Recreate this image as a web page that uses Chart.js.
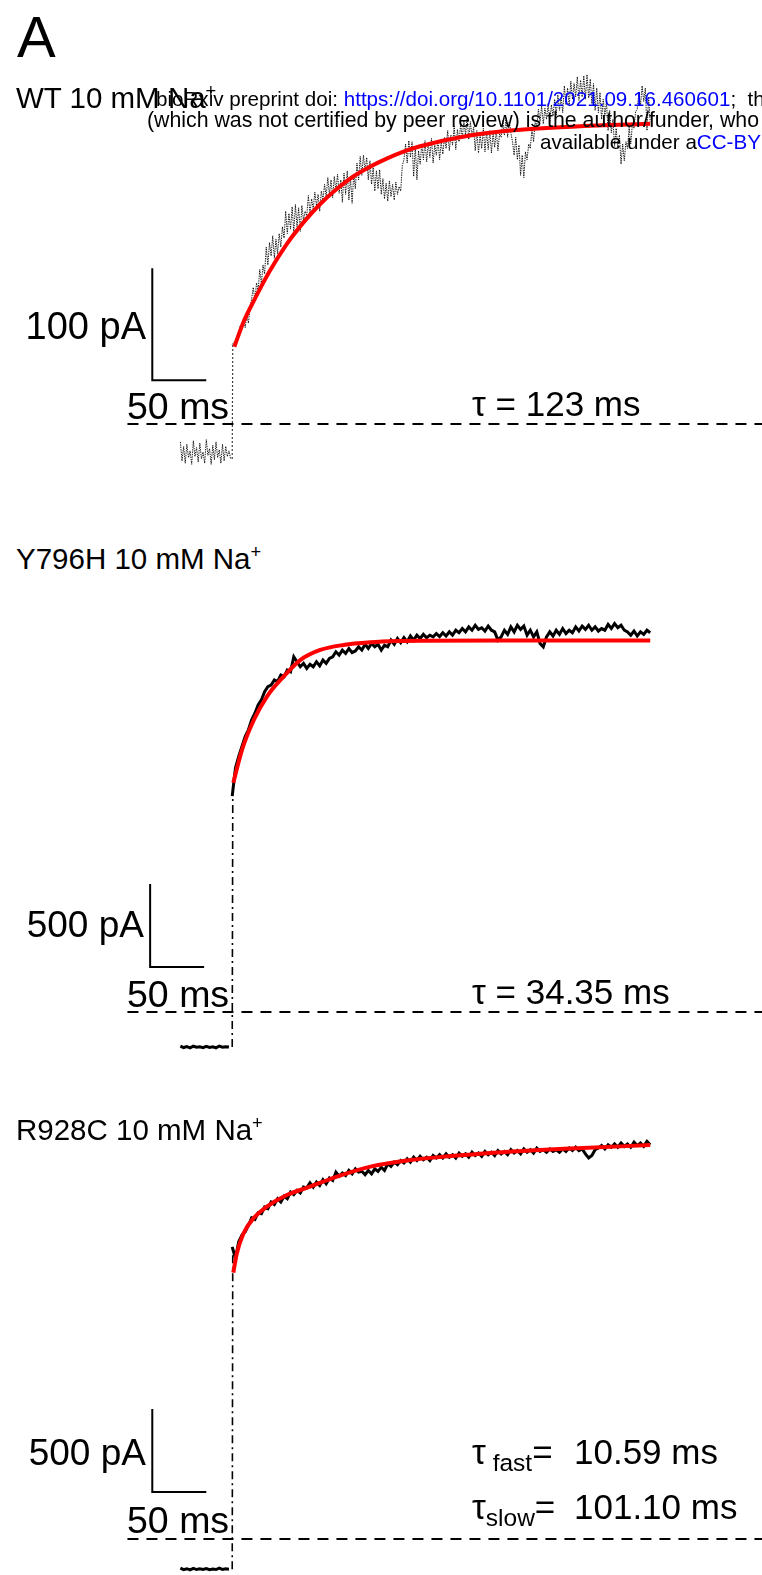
<!DOCTYPE html>
<html>
<head>
<meta charset="utf-8">
<script src="https://cdn.jsdelivr.net/npm/chart.js@4.4.0/dist/chart.umd.min.js"></script>
<style>
body { margin:0; width:762px; height:1575px; overflow:hidden; background:#fff; position:relative;
       font-family:"Liberation Sans", Arial, sans-serif; }
canvas { position:absolute; left:0; }
.t { position:absolute; white-space:nowrap; line-height:1; color:#000; }
.t sup { font-size:62%; vertical-align:0.62em; line-height:0; }
.t sub { font-size:70%; vertical-align:-0.3em; line-height:0; }
.wm { position:absolute; white-space:nowrap; line-height:1; color:#000; }
.wm a { color:#0000ff; text-decoration:none; }
</style>
</head>
<body>

<canvas id="wt" width="762" height="420" style="top:60px"></canvas>
<canvas id="y796h" width="762" height="480" style="top:590px"></canvas>
<canvas id="r928c" width="762" height="465" style="top:1110px"></canvas>

<!-- labels -->
<div class="t" style="left:17px;top:8px;font-size:58px">A</div>
<div class="t" style="left:16px;top:83px;font-size:29.5px">WT 10 mM Na<sup>+</sup></div>
<div class="wm" style="left:156px;top:89px;font-size:20.6px">bioRxiv preprint doi: <a>https://doi.org/10.1101/2021.09.16.460601</a>;&nbsp;&nbsp;this version posted</div>
<div class="wm" style="left:147px;top:110px;font-size:21.3px">(which was not certified by peer review) is the author/funder, who has granted</div>
<div class="wm" style="left:540px;top:132px;font-size:20.6px">available under a<a>CC-BY 4.0 International license</a></div>
<div class="t" style="right:616px;top:307px;font-size:38px">100 pA</div>
<div class="t" style="left:127px;top:388px;font-size:37.5px">50 ms</div>
<div class="t" style="left:472px;top:386px;font-size:35px">τ = 123 ms</div>

<div class="t" style="left:16px;top:544px;font-size:29.5px">Y796H 10 mM Na<sup>+</sup></div>
<div class="t" style="right:618px;top:906px;font-size:37px">500 pA</div>
<div class="t" style="left:127px;top:976px;font-size:37.5px">50 ms</div>
<div class="t" style="left:472px;top:974px;font-size:35px">τ = 34.35 ms</div>

<div class="t" style="left:16px;top:1115px;font-size:29.5px">R928C 10 mM Na<sup>+</sup></div>
<div class="t" style="right:616px;top:1434px;font-size:37px">500 pA</div>
<div class="t" style="left:127px;top:1502px;font-size:37.5px">50 ms</div>
<div class="t" style="left:472px;top:1434px;font-size:35px">τ<sub> fast</sub>=</div>
<div class="t" style="left:574px;top:1434px;font-size:35px">10.59 ms</div>
<div class="t" style="left:472px;top:1489px;font-size:35px">τ<sub>slow</sub>=</div>
<div class="t" style="left:574px;top:1489px;font-size:35px">101.10 ms</div>

<script>
// traces start 48 ms before the jump, time in ms, current in pA
const baselineStart = -48;

// WT 10 mM Na+, sampled every 1.5 ms
const wtStep = 1.5;
const wtBaseline = [-16, -33, -20, -35, -18, -30, -24, -36, -15, -29, -21, -34, -17, -31, -25, -35,
                    -14, -28, -22, -36, -19, -32, -16, -30, -23, -35, -18, -33, -20, -29, -24, -31];
const wtTrace = [
  71, 73, 72, 76, 82, 88, 84, 95, 86, 97,
  90, 104, 112, 122, 110, 126, 119, 138, 125, 142,
  134, 158, 142, 162, 150, 168, 148, 165, 152, 170,
  158, 176, 166, 190, 170, 188, 174, 194, 171, 196,
  176, 193, 172, 195, 182, 190, 186, 204, 188, 201,
  192, 207, 195, 205, 190, 208, 200, 214, 203, 220,
  205, 218, 202, 221, 208, 223, 206, 218, 198, 224,
  205, 226, 200, 220, 197, 223, 210, 233, 218, 239,
  222, 240, 226, 238, 218, 235, 214, 229, 208, 226,
  210, 227, 205, 219, 201, 215, 199, 217, 203, 214,
  200, 216, 205, 212, 208, 231, 236, 250, 233, 253,
  238, 252, 221, 248, 218, 244, 232, 250, 236, 253,
  234, 251, 238, 255, 233, 249, 240, 254, 236, 252,
  241, 256, 246, 262, 244, 258, 249, 266, 245, 263,
  252, 268, 255, 271, 258, 273, 254, 270, 256, 265,
  244, 262, 242, 258, 246, 264, 243, 261, 245, 262,
  242, 260, 247, 262, 244, 259, 256, 271, 258, 273,
  256, 270, 260, 252, 240, 256, 236, 249, 222, 240,
  220, 243, 236, 250, 246, 264, 252, 270, 266, 281,
  270, 284, 268, 282, 272, 286, 269, 285, 275, 290,
  276, 294, 280, 292, 278, 302, 285, 300, 284, 306,
  290, 304, 292, 310, 289, 307, 292, 311, 290, 312,
  291, 308, 286, 304, 280, 300, 278, 296, 272, 290,
  275, 288, 262, 280, 260, 272, 248, 264, 246, 258,
  232, 250, 235, 252, 246, 265, 250, 268, 264, 279,
  281, 296, 284, 302, 288, 300, 262, 292, 270
];
const wtFitTime = [2, 10, 20, 35, 50, 66, 81, 97, 112, 128, 143, 158, 174, 211, 257, 304, 350, 387];
const wtFit = [69, 90, 110, 137, 160, 180, 196, 210, 221, 230, 237, 243, 248, 256, 262, 265, 267, 268];

// Y796H 10 mM Na+, sampled every 3 ms
const y796hStep = 3;
const y796hBaseline = [-205, -214, -208, -216, -206, -212, -209, -215, -207, -213, -210, -216, -205, -212, -209, -211];
const y796hTrace = [
  1300, 1470, 1540, 1600, 1660, 1700, 1760, 1800, 1850, 1880,
  1930, 1960, 1970, 2000, 1990, 2030, 2020, 2060, 2050, 2140,
  2110, 2080, 2100, 2070, 2095, 2080, 2110, 2085, 2120, 2100,
  2130, 2140, 2170, 2150, 2180, 2160, 2190, 2165, 2175, 2200,
  2180, 2215, 2190, 2220, 2200, 2215, 2180, 2210, 2200, 2240,
  2215, 2250, 2225, 2255, 2230, 2265, 2240, 2270, 2250, 2275,
  2255, 2270, 2260, 2280, 2262, 2285, 2265, 2290, 2270, 2300,
  2285, 2310, 2290, 2320, 2300, 2330, 2305, 2315, 2295, 2325,
  2300, 2290, 2240, 2260, 2300, 2275, 2320, 2290, 2330, 2305,
  2325, 2270, 2300, 2260, 2290, 2220, 2200, 2260, 2290, 2265,
  2300, 2275, 2310, 2280, 2300, 2285, 2320, 2295, 2325, 2305,
  2330, 2300, 2320, 2295, 2310, 2300, 2335, 2310, 2340, 2315,
  2330, 2300, 2290, 2270, 2295, 2265, 2290, 2275, 2300, 2285
];
const y796hFitTime = [1, 9, 20, 32, 47.5, 63, 81.5, 103, 128, 158, 174, 250, 387];
const y796hFit = [1381, 1578, 1759, 1899, 2020, 2120, 2181, 2211, 2227, 2235, 2237, 2238, 2238];

// R928C 10 mM Na+, sampled every 3 ms
const r928cStep = 3;
const r928cBaseline = [-176, -185, -179, -186, -177, -184, -180, -183, -178, -185, -181, -184, -176, -183, -180, -182];
const r928cTrace = [
  1760, 1690, 1790, 1830, 1850, 1890, 1935, 1925, 1965, 1960,
  2000, 1990, 2030, 2015, 2050, 2030, 2065, 2050, 2090, 2075,
  2100, 2085, 2120, 2115, 2145, 2120, 2150, 2130, 2165, 2140,
  2175, 2160, 2210, 2185, 2205, 2190, 2220, 2200, 2230, 2210,
  2215, 2195, 2220, 2200, 2230, 2215, 2240, 2220, 2260, 2245,
  2270, 2255, 2280, 2265, 2290, 2270, 2300, 2280, 2305, 2285,
  2300, 2280, 2310, 2295, 2315, 2295, 2320, 2300, 2315, 2295,
  2325, 2305, 2320, 2300, 2330, 2310, 2325, 2305, 2335, 2315,
  2330, 2310, 2340, 2320, 2335, 2315, 2345, 2325, 2340, 2320,
  2350, 2330, 2345, 2325, 2355, 2335, 2345, 2330, 2350, 2335,
  2345, 2330, 2350, 2335, 2355, 2340, 2360, 2340, 2350, 2320,
  2295, 2310, 2345, 2355, 2370, 2350, 2375, 2360, 2380, 2360,
  2385, 2365, 2380, 2360, 2390, 2370, 2385, 2365, 2395, 2375
];
const r928cFitTime = [1, 4.3, 10.5, 19.7, 32, 50.6, 72, 97, 128, 165, 200, 242, 280, 319, 387];
const r928cFit = [1604, 1721, 1842, 1932, 2002, 2072, 2122, 2183, 2243, 2283, 2305, 2327, 2342, 2354, 2373];

// zero current reference line (ms)
const zeroLineTime = [-97, 491];

function sampled(values, start, step) {
  return values.map((v, i) => ({ x: start + i * step, y: v }));
}
function paired(xs, ys) {
  return xs.map((x, i) => ({ x: x, y: ys[i] }));
}

const panels = [
  { id: 'wt', yMin: -50, yMax: 325, step: wtStep, baseline: wtBaseline, trace: wtTrace, fitT: wtFitTime, fit: wtFit,
    traceWidth: 0.9, traceDash: [1.4, 1], jumpWidth: 1.2, jumpDash: [1.5, 2.5], barT: -74, barI: 39, barPA: 100 },
  { id: 'y796h', yMin: -349.4, yMax: 2542.2, step: y796hStep, baseline: y796hBaseline, trace: y796hTrace, fitT: y796hFitTime, fit: y796hFit,
    traceWidth: 3, traceDash: [], jumpWidth: 1.6, jumpDash: [8, 4, 2, 4], barT: -76, barI: 271, barPA: 500 },
  { id: 'r928c', yMin: -216.9, yMax: 2584.3, step: r928cStep, baseline: r928cBaseline, trace: r928cTrace, fitT: r928cFitTime, fit: r928cFit,
    traceWidth: 3, traceDash: [], jumpWidth: 1.6, jumpDash: [8, 4, 2, 4], barT: -74, barI: 283, barPA: 500 }
];

panels.forEach(p => {
  const base = sampled(p.baseline, baselineStart, p.step);
  const tr = sampled(p.trace, 0, p.step);
  const jump = [{ x: 0, y: p.baseline[p.baseline.length - 1] }, { x: 0.5, y: p.trace[0] }];
  const bar = [{ x: p.barT, y: p.barI + p.barPA }, { x: p.barT, y: p.barI }, { x: p.barT + 50, y: p.barI }];
  const zero = zeroLineTime.map(t => ({ x: t, y: 0 }));

  new Chart(document.getElementById(p.id), {
    type: 'scatter',
    data: {
      datasets: [
        { data: paired(p.fitT, p.fit), borderColor: '#ff0000', borderWidth: 4, cubicInterpolationMode: 'monotone', order: 0 },
        { data: tr, borderColor: '#000', borderWidth: p.traceWidth, borderDash: p.traceDash, order: 2 },
        { data: base, borderColor: '#000', borderWidth: p.traceWidth, borderDash: p.traceDash, order: 2 },
        { data: jump, borderColor: '#000', borderWidth: p.jumpWidth, borderDash: p.jumpDash, order: 2 },
        { data: zero, borderColor: '#000', borderWidth: 2, borderDash: [11, 8], order: 1 },
        { data: bar, borderColor: '#000', borderWidth: 2, order: 1 }
      ].map(d => Object.assign({ showLine: true, pointRadius: 0, fill: false, tension: 0 }, d))
    },
    options: {
      responsive: false,
      animation: false,
      events: [],
      layout: { padding: 0 },
      plugins: { legend: { display: false }, tooltip: { enabled: false } },
      scales: {
        x: { type: 'linear', display: false, min: -215, max: 490.5 },
        y: { type: 'linear', display: false, min: p.yMin, max: p.yMax }
      }
    }
  });
});
</script>
</body>
</html>
